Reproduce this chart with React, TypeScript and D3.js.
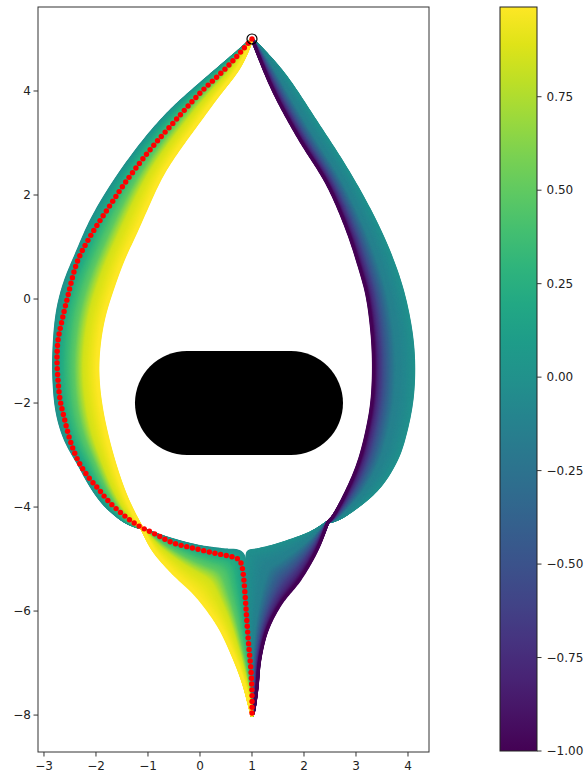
import React from 'react';
import * as d3 from 'd3';

type P = [number, number];

// ---- axes / colour data ----
const X_TICKS = [-3, -2, -1, 0, 1, 2, 3, 4];
const Y_TICKS = [-8, -6, -4, -2, 0, 2, 4];
const CBAR_TICKS = [-1, -0.75, -0.5, -0.25, 0, 0.25, 0.5, 0.75];
const C_MIN = -1;
const C_MAX = 0.99;
const X_DOMAIN: P = [-3.115, 4.404];
const Y_DOMAIN: P = [-8.71, 5.615];

const START: P = [1, 5];
const OBSTACLE_X: P = [-1.25, 2.75];
const OBSTACLE_Y: P = [-3, -1];
const OBSTACLE_R = 1;

// colour value across each band: fraction from outer edge -> value
const LEFT_PROFILE_T = [0, 0.15, 0.5, 0.7, 1];
const LEFT_PROFILE_V = [0, 0.15, 0.5, 0.85, 0.99];
const RIGHT_PROFILE_T = [0, 0.5, 0.76, 0.93, 1];
const RIGHT_PROFILE_V = [0, -0.15, -0.5, -0.8, -1];

// ---- trajectory family boundaries ----
const LEFT_OUTER_UPPER: P[] = [
  [1, 5], [0.77, 4.79], [0.38, 4.46], [-0.06, 4.08], [-0.52, 3.67], [-0.96, 3.19],
  [-1.4, 2.62], [-1.79, 2.04], [-2.12, 1.46], [-2.37, 0.88], [-2.6, 0.33],
  [-2.75, -0.27], [-2.81, -0.98], [-2.81, -1.56], [-2.75, -2.19], [-2.58, -2.75],
  [-2.37, -3.1], [-2.17, -3.48], [-1.92, -3.87], [-1.6, -4.19], [-1.35, -4.33], [-1.12, -4.4],
];
const LEFT_OUTER_LOWER: P[] = [
  [-1.12, -4.4], [-0.96, -4.48], [-0.52, -4.63], [0, -4.76], [0.52, -4.83],
  [0.83, -4.87], [0.87, -5.31], [0.92, -6.17], [0.96, -7.04], [1, -8],
];
const LEFT_INNER_UPPER: P[] = [
  [1, 5], [0.77, 4.46], [0.38, 3.96], [0, 3.44], [-0.38, 2.92], [-0.71, 2.42],
  [-0.96, 1.9], [-1.21, 1.33], [-1.48, 0.75], [-1.68, 0.2], [-1.85, -0.35],
  [-1.95, -0.98], [-1.96, -1.56], [-1.88, -2.19], [-1.73, -2.85], [-1.54, -3.48],
  [-1.35, -3.96], [-1.12, -4.4],
];
const LEFT_INNER_LOWER: P[] = [
  [-1.12, -4.4], [-0.9, -4.83], [-0.52, -5.27], [-0.08, -5.69], [0.35, -6.27],
  [0.63, -6.85], [0.83, -7.37], [0.96, -7.85], [1, -8],
];
const RIGHT_OUTER_UPPER: P[] = [
  [1, 5], [1.6, 4.35], [2.25, 3.38], [2.83, 2.48], [3.33, 1.58], [3.7, 0.75],
  [3.95, -0.05], [4.1, -0.98], [4.08, -1.94], [3.88, -2.85], [3.71, -3.23],
  [3.46, -3.62], [3.13, -3.92], [2.75, -4.19], [2.46, -4.29],
];
const RIGHT_OUTER_LOWER: P[] = [
  [2.46, -4.29], [2.12, -4.5], [1.6, -4.69], [1.25, -4.79], [0.96, -4.85],
  [0.9, -4.88], [0.94, -5.79], [0.98, -6.94], [1, -8],
];
const RIGHT_INNER_UPPER: P[] = [
  [1, 5], [1.4, 4.02], [1.92, 3.06], [2.44, 2.23], [2.83, 1.33], [3.08, 0.56],
  [3.23, -0.02], [3.33, -0.98], [3.31, -1.94], [3.17, -2.71], [3.02, -3.23],
  [2.83, -3.67], [2.6, -4.12], [2.46, -4.29],
];
const RIGHT_INNER_LOWER: P[] = [
  [2.46, -4.29], [2.25, -4.83], [1.92, -5.4], [1.56, -5.85], [1.29, -6.37],
  [1.15, -6.94], [1.1, -7.46], [1.04, -7.9], [1, -8],
];

// ---- red path waypoints ----
const RED_PATH: P[] = [
  [1, 5], [0.52, 4.46], [0, 3.96], [-0.52, 3.38], [-0.96, 2.87], [-1.4, 2.29],
  [-1.79, 1.71], [-2.12, 1.19], [-2.37, 0.69], [-2.56, -0.02], [-2.65, -0.4],
  [-2.73, -0.79], [-2.75, -1.17], [-2.73, -1.56], [-2.69, -1.94], [-2.6, -2.33],
  [-2.5, -2.71], [-2.35, -3.1], [-2.15, -3.42], [-1.98, -3.62], [-1.73, -3.92],
  [-1.4, -4.21], [-1.15, -4.38], [-0.9, -4.5], [-0.52, -4.69], [-0.13, -4.79],
  [0.25, -4.88], [0.63, -4.96], [0.77, -5.02], [0.83, -5.27], [0.87, -5.73],
  [0.9, -6.17], [0.94, -6.69], [0.98, -7.13], [1, -7.58], [1, -7.96],
];

const W = 585;
const H = 776;
const AX = { left: 38, right: 429, top: 7, bottom: 752 };
const CB = { left: 500, right: 537, top: 7, bottom: 751 };

const x = d3.scaleLinear().domain(X_DOMAIN).range([AX.left, AX.right]);
const y = d3.scaleLinear().domain(Y_DOMAIN).range([AX.bottom, AX.top]);
const cScale = d3.scaleLinear().domain([C_MIN, C_MAX]).range([CB.bottom, CB.top]);
const color = (v: number) => d3.interpolateViridis((v - C_MIN) / (C_MAX - C_MIN));

const toPx = (pts: P[]): P[] => pts.map(([a, b]) => [x(a), y(b)] as P);

function catmull(pts: P[], sub = 16): P[] {
  const out: P[] = [];
  const n = pts.length;
  for (let i = 0; i < n - 1; i++) {
    const p0 = pts[Math.max(i - 1, 0)];
    const p1 = pts[i];
    const p2 = pts[i + 1];
    const p3 = pts[Math.min(i + 2, n - 1)];
    for (let k = 0; k < sub; k++) {
      const t = k / sub;
      const t2 = t * t;
      const t3 = t2 * t;
      const f = (a: number, b: number, c: number, d: number) =>
        0.5 * (2 * b + (-a + c) * t + (2 * a - 5 * b + 4 * c - d) * t2 + (-a + 3 * b - 3 * c + d) * t3);
      out.push([f(p0[0], p1[0], p2[0], p3[0]), f(p0[1], p1[1], p2[1], p3[1])]);
    }
  }
  out.push(pts[n - 1]);
  return out;
}

// resample a dense polyline at n evenly spaced values of a monotonic key
function resampleByKey(pts: P[], keys: number[], n: number): P[] {
  const k = keys.slice();
  for (let i = 1; i < k.length; i++) k[i] = Math.max(k[i], k[i - 1] + 1e-9);
  const k0 = k[0];
  const k1 = k[k.length - 1];
  const out: P[] = [];
  let j = 0;
  for (let s = 0; s < n; s++) {
    const target = k0 + ((k1 - k0) * s) / (n - 1);
    while (j < k.length - 2 && k[j + 1] < target) j++;
    const seg = k[j + 1] - k[j] || 1;
    const u = Math.min(1, Math.max(0, (target - k[j]) / seg));
    out.push([
      pts[j][0] + (pts[j + 1][0] - pts[j][0]) * u,
      pts[j][1] + (pts[j + 1][1] - pts[j][1]) * u,
    ]);
  }
  return out;
}

const arcKeys = (pts: P[]) => {
  const cum = [0];
  for (let i = 1; i < pts.length; i++) {
    cum.push(cum[i - 1] + Math.hypot(pts[i][0] - pts[i - 1][0], pts[i][1] - pts[i - 1][1]));
  }
  return cum;
};
const yKeys = (pts: P[]) => pts.map((p) => p[1]);

function smooth(pts: P[], radius: number): P[] {
  const n = pts.length;
  return pts.map((p, i) => {
    const w = Math.min(radius, i, n - 1 - i);
    if (w === 0) return p;
    let sx = 0, sy = 0, sw = 0;
    for (let k = -w; k <= w; k++) {
      const g = Math.exp(-(k * k) / (2 * (w / 2) * (w / 2)));
      sx += pts[i + k][0] * g;
      sy += pts[i + k][1] * g;
      sw += g;
    }
    return [sx / sw, sy / sw] as P;
  });
}

function resampleBySpacing(pts: P[], spacing: number): P[] {
  const keys = arcKeys(pts);
  const n = Math.max(2, Math.round(keys[keys.length - 1] / spacing) + 1);
  return resampleByKey(pts, keys, n);
}

const N_UP = 220;
const N_LO = 100;
// upper segments: parameterised by height (monotonic); lower: by arc length
const prepUp = (pts: P[]) => {
  const dense = catmull(toPx(pts));
  const a = arcKeys(dense);
  const total = a[a.length - 1];
  const yk = yKeys(dense);
  const yspan = yk[yk.length - 1] - yk[0];
  const keys = dense.map((_, i) => 0.7 * (yk[i] - yk[0]) / yspan + 0.3 * a[i] / total);
  return smooth(resampleByKey(dense, keys, N_UP), 8);
};
const prepLo = (pts: P[]) => {
  const dense = catmull(toPx(pts));
  return smooth(resampleByKey(dense, arcKeys(dense), N_LO), 4);
};

function family(
  outerU: P[], outerL: P[], innerU: P[], innerL: P[], profT: number[], profV: number[], K: number,
) {
  const oU = prepUp(outerU);
  const oL = prepLo(outerL);
  const iU = prepUp(innerU);
  const iL = prepLo(innerL);
  const prof = d3.scaleLinear().domain(profT).range(profV);
  const line = d3.line<P>().x((d) => d[0]).y((d) => d[1]);
  const curves: { d: string; c: string }[] = [];
  for (let k = 0; k <= K; k++) {
    const t = k / K;
    const up = oU.map((p, i) => [p[0] + (iU[i][0] - p[0]) * t, p[1] + (iU[i][1] - p[1]) * t] as P);
    const lo = oL.map((p, i) => [p[0] + (iL[i][0] - p[0]) * t, p[1] + (iL[i][1] - p[1]) * t] as P);
    curves.push({ d: line(up.concat(lo.slice(1))) || '', c: color(prof(t)) });
  }
  return curves;
}

const LEFT_CURVES = family(LEFT_OUTER_UPPER, LEFT_OUTER_LOWER, LEFT_INNER_UPPER, LEFT_INNER_LOWER, LEFT_PROFILE_T, LEFT_PROFILE_V, 120);
const RIGHT_CURVES = family(RIGHT_OUTER_UPPER, RIGHT_OUTER_LOWER, RIGHT_INNER_UPPER, RIGHT_INNER_LOWER, RIGHT_PROFILE_T, RIGHT_PROFILE_V, 120);
const RED_DENSE = catmull(toPx(RED_PATH));
const RED_DOTS = resampleBySpacing(smooth(resampleByKey(RED_DENSE, arcKeys(RED_DENSE), 400), 3), 5.8);

const fmtTick = (v: number) => (v < 0 ? '\u2212' + Math.abs(v) : String(v));
const fmtCbar = (v: number) => (v < 0 ? '\u2212' : '') + Math.abs(v).toFixed(2);

const FONT = 'DejaVu Sans, sans-serif';

export default function App() {
  const gradStops = d3.range(0, 1.0001, 0.05);
  return (
    <svg width={W} height={H} style={{ position: 'absolute', left: 0, top: 0, background: '#fff' }} fontFamily={FONT}>
      <defs>
        <linearGradient id="cbar" x1="0" y1="1" x2="0" y2="0">
          {gradStops.map((s) => (
            <stop key={s} offset={s} stopColor={d3.interpolateViridis(s)} />
          ))}
        </linearGradient>
      </defs>
      <rect x={0} y={0} width={W} height={H} fill="#fff" />
      {/* trajectory families */}
      <g fill="none" strokeWidth={3} strokeLinecap="round" strokeLinejoin="round">
        {RIGHT_CURVES.map((c, i) => (
          <path key={'r' + i} d={c.d} stroke={c.c} />
        ))}
        {LEFT_CURVES.map((c, i) => (
          <path key={'l' + i} d={c.d} stroke={c.c} />
        ))}
      </g>
      {/* obstacle */}
      <rect
        x={x(OBSTACLE_X[0])}
        y={y(OBSTACLE_Y[1])}
        width={x(OBSTACLE_X[1]) - x(OBSTACLE_X[0])}
        height={y(OBSTACLE_Y[0]) - y(OBSTACLE_Y[1])}
        rx={x(OBSTACLE_R) - x(0)}
        ry={y(0) - y(OBSTACLE_R)}
        fill="#000"
      />
      {/* red path */}
      <g fill="#ff0000">
        {RED_DOTS.map((p, i) => (
          <circle key={i} cx={p[0]} cy={p[1]} r={2.7} />
        ))}
      </g>
      {/* start marker */}
      <circle cx={x(START[0])} cy={y(START[1])} r={5} fill="none" stroke="#000" strokeWidth={1.2} />
      {/* axes frame */}
      <rect x={AX.left} y={AX.top} width={AX.right - AX.left} height={AX.bottom - AX.top} fill="none" stroke="#333" strokeWidth={1} />
      {X_TICKS.map((t) => (
        <g key={'x' + t} transform={`translate(${x(t)},${AX.bottom})`}>
          <line y2={4.5} stroke="#333" />
          <text y={18} textAnchor="middle" fontSize={12} fill="#222">
            {fmtTick(t)}
          </text>
        </g>
      ))}
      {Y_TICKS.map((t) => (
        <g key={'y' + t} transform={`translate(${AX.left},${y(t)})`}>
          <line x2={-4.5} stroke="#333" />
          <text x={-7} dy="0.35em" textAnchor="end" fontSize={12} fill="#222">
            {fmtTick(t)}
          </text>
        </g>
      ))}
      {/* colorbar */}
      <rect x={CB.left} y={CB.top} width={CB.right - CB.left} height={CB.bottom - CB.top} fill="url(#cbar)" stroke="#222" strokeWidth={1} />
      {CBAR_TICKS.map((t) => (
        <g key={'c' + t} transform={`translate(${CB.right},${cScale(t)})`}>
          <line x2={4.5} stroke="#333" />
          <text x={9.5} dy="0.35em" textAnchor="start" fontSize={12} fill="#222">
            {fmtCbar(t)}
          </text>
        </g>
      ))}
    </svg>
  );
}
